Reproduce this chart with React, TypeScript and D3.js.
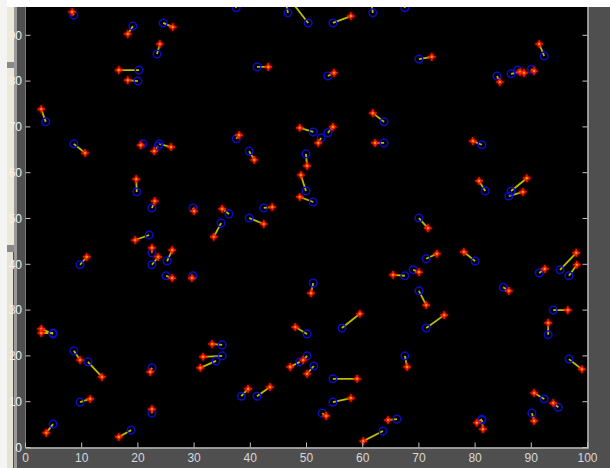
import React from 'react';
import * as d3 from 'd3';

// particle start positions (blue circles) and end positions (red stars)
const startX = [8.6, 19.1, 24.5, 23.4, 20.2, 20.0, 3.6, 8.6, 20.9, 23.8, 23.6, 37.5, 46.7, 50.3, 54.7, 61.8, 41.2, 53.8, 63.8, 63.8, 37.5, 39.8, 51.2, 53.8, 52.6, 49.9, 67.5, 70.0, 92.3, 83.9, 86.4, 87.6, 90.0, 81.2, 29.8, 36.2, 42.4, 49.9, 51.2, 34.8, 39.8, 81.8, 86.4, 86.0, 70.0, 71.3, 80.0, 95.1, 96.7, 91.4, 67.5, 69.0, 85.0, 70.0, 71.3, 93.9, 93.0, 67.5, 96.7, 29.8, 51.2, 56.3, 50.1, 35.0, 35.0, 33.9, 50.1, 48.8, 51.3, 54.7, 38.4, 41.2, 54.7, 52.8, 66.1, 63.6, 81.2, 81.2, 92.3, 94.8, 90.1, 4.9, 4.9, 8.6, 11.1, 22.5, 9.7, 22.5, 4.9, 18.8, 19.8, 22.5, 22.0, 22.5, 22.5, 25.2, 9.7, 25.0];
const startY = [94.4, 92.0, 92.7, 85.9, 82.4, 80.0, 71.1, 66.3, 66.3, 66.3, 65.8, 96.0, 94.9, 92.7, 92.7, 94.9, 83.1, 81.1, 71.1, 66.5, 67.4, 64.7, 68.9, 68.7, 67.6, 64.1, 96.0, 84.8, 85.5, 81.1, 81.6, 82.4, 82.6, 66.1, 52.3, 51.0, 52.3, 56.0, 53.6, 49.0, 50.1, 56.0, 56.0, 54.9, 50.1, 41.2, 40.7, 38.8, 37.5, 38.1, 37.5, 38.8, 35.0, 34.2, 26.1, 30.0, 24.6, 20.0, 19.3, 37.5, 35.9, 26.1, 24.8, 22.4, 20.0, 18.9, 20.0, 18.7, 17.8, 15.0, 11.2, 11.2, 9.9, 7.5, 6.2, 3.6, 6.2, 6.0, 10.6, 8.8, 7.5, 24.8, 25.0, 21.1, 18.7, 17.4, 9.9, 7.5, 5.1, 3.8, 55.8, 52.3, 46.4, 42.5, 39.9, 40.7, 39.9, 37.5];
const endX = [8.3, 18.2, 26.2, 23.9, 16.6, 18.2, 2.8, 10.6, 20.5, 25.9, 22.9, 36.9, 46.3, 47.1, 57.9, 61.5, 43.2, 54.9, 61.8, 62.2, 38.0, 40.7, 48.8, 54.7, 52.1, 50.1, 67.2, 72.3, 91.4, 84.4, 88.0, 88.7, 90.5, 79.6, 30.0, 35.0, 43.9, 49.0, 48.8, 33.5, 42.4, 80.7, 89.2, 88.5, 71.6, 73.2, 78.0, 98.0, 98.1, 92.4, 65.4, 70.0, 86.0, 71.3, 74.5, 96.5, 93.0, 67.9, 99.0, 29.6, 50.8, 59.5, 48.0, 33.2, 31.6, 31.1, 49.4, 47.1, 50.1, 59.0, 39.6, 43.5, 57.9, 53.5, 64.5, 60.1, 80.3, 81.4, 90.5, 93.9, 90.5, 2.8, 2.8, 9.7, 13.6, 22.2, 11.5, 22.5, 3.7, 16.6, 19.7, 23.0, 19.5, 22.5, 23.6, 26.1, 10.9, 26.1];
const endY = [95.1, 90.3, 91.8, 88.1, 82.4, 80.2, 73.9, 64.3, 66.0, 65.6, 64.7, 97.7, 97.3, 97.7, 94.2, 97.7, 83.1, 81.8, 73.0, 66.5, 68.2, 62.8, 69.8, 70.0, 66.5, 61.5, 97.7, 85.3, 88.1, 79.8, 82.0, 81.8, 82.2, 66.9, 51.6, 52.1, 52.5, 59.5, 54.7, 46.0, 48.8, 58.2, 58.8, 55.8, 47.9, 42.3, 42.7, 42.5, 39.9, 39.0, 37.7, 38.3, 34.2, 31.1, 28.9, 30.0, 27.2, 17.6, 17.1, 37.0, 33.7, 29.2, 26.3, 22.6, 19.8, 17.4, 19.1, 17.6, 16.1, 15.0, 12.8, 13.2, 10.8, 6.9, 6.0, 1.4, 5.4, 4.0, 11.9, 9.7, 5.8, 25.9, 25.0, 19.1, 15.4, 16.5, 10.6, 8.4, 3.2, 2.3, 58.6, 53.8, 45.3, 43.6, 41.6, 43.1, 41.6, 37.0];

const xTicks = [0, 10, 20, 30, 40, 50, 60, 70, 80, 90, 100];
const yTicks = [0, 10, 20, 30, 40, 50, 60, 70, 80, 90];

const W = 610;
const H = 468;
const TOP = 7;

export default function App() {
  const x = d3.scaleLinear().domain([0, 100]).range([25.5, 587.5]);
  const y = d3.scaleLinear().domain([0, 100]).range([447.5, -10.5]);

  const arrows = startX.map((sx, i) => ({ sx, sy: startY[i], ex: endX[i], ey: endY[i] }));
  const star = 'M-3.8,0H3.8M0,-3.8V3.8M-1.6,-1.6L1.6,1.6M-1.6,1.6L1.6,-1.6';

  return (
    <svg width={W} height={H} style={{ position: 'absolute', left: 0, top: 0 }}
      fontFamily="Arial, 'Liberation Sans', sans-serif">
      <defs>
        <clipPath id="plotClip">
          <rect x={x(0)} y={TOP} width={x(100) - x(0)} height={y(0) - TOP} />
        </clipPath>
        <filter id="glow" x="-1" y="-1" width="3" height="3">
          <feGaussianBlur stdDeviation="1" />
        </filter>
      </defs>

      {/* figure background and window chrome */}
      <rect width={W} height={H} fill="#4f4f4f" />
      <rect width={W} height={TOP} fill="#ffffff" />
      <rect x={0} y={0} width={7} height={H} fill="#f4f4f2" />
      <rect x={7} y={62} width={8} height={6} fill="#8a8a8a" />
      <rect x={7} y={245} width={8} height={7} fill="#8a8a8a" />
      <rect x={7} y={TOP} width={7} height={55} fill="#ece9d8" />
      <rect x={7} y={68} width={7} height={177} fill="#ece9d8" />
      <rect x={7} y={252} width={6} height={216} fill="#e6e2d4" />
      <rect x={14} y={TOP} width={3} height={H - TOP} fill="#9a9a9a" />

      {/* plot area */}
      <rect x={x(0)} y={TOP} width={x(100) - x(0)} height={y(0) - TOP} fill="#000000" />

      <g clipPath="url(#plotClip)">
        {arrows.map((a, i) => (
          <line key={'l' + i} x1={x(a.sx)} y1={y(a.sy)} x2={x(a.ex)} y2={y(a.ey)}
            stroke="#bcbc00" strokeWidth={1.8} />
        ))}
        {arrows.map((a, i) => (
          <circle key={'c' + i} cx={x(a.sx)} cy={y(a.sy)} r={3.8}
            fill="none" stroke="#0c0cc4" strokeWidth={1.5} />
        ))}
        {arrows.map((a, i) => (
          <g key={'s' + i} transform={`translate(${x(a.ex)},${y(a.ey)})`}>
            <path d={star} stroke="#e81000" strokeWidth={2.2} filter="url(#glow)" />
            <path d={star} stroke="#ff2000" strokeWidth={1.2} />
            <circle r={1.1} fill="#ffa800" />
          </g>
        ))}
      </g>

      {/* axes */}
      <line x1={x(0)} x2={x(100) + 1} y1={y(0) + 0.5} y2={y(0) + 0.5} stroke="#b8b8b8" strokeWidth={1.5} />
      <line x1={x(100) + 0.5} x2={x(100) + 0.5} y1={TOP} y2={y(0) + 1} stroke="#b8b8b8" strokeWidth={1.5} />
      <line x1={x(0)} x2={x(0)} y1={TOP} y2={y(0)} stroke="#7a7a7a" strokeWidth={1} />

      {xTicks.map(t => (
        <g key={'xt' + t}>
          <line x1={x(t)} x2={x(t)} y1={y(0)} y2={y(0) - 5} stroke="#c0c0c0" strokeWidth={1} />
          <text x={x(t)} y={462} textAnchor="middle" fontSize={12} fill="#d8d8d8">{t}</text>
        </g>
      ))}
      {yTicks.map(t => (
        <g key={'yt' + t}>
          <line x1={x(0)} x2={x(0) + 5} y1={y(t)} y2={y(t)} stroke="#c0c0c0" strokeWidth={1} />
          <line x1={x(100)} x2={x(100) - 5} y1={y(t)} y2={y(t)} stroke="#c0c0c0" strokeWidth={1} />
          <text x={22} y={y(t)} dy="0.35em" textAnchor="end" fontSize={12} fill="#f2f2f2">{t}</text>
        </g>
      ))}
    </svg>
  );
}
